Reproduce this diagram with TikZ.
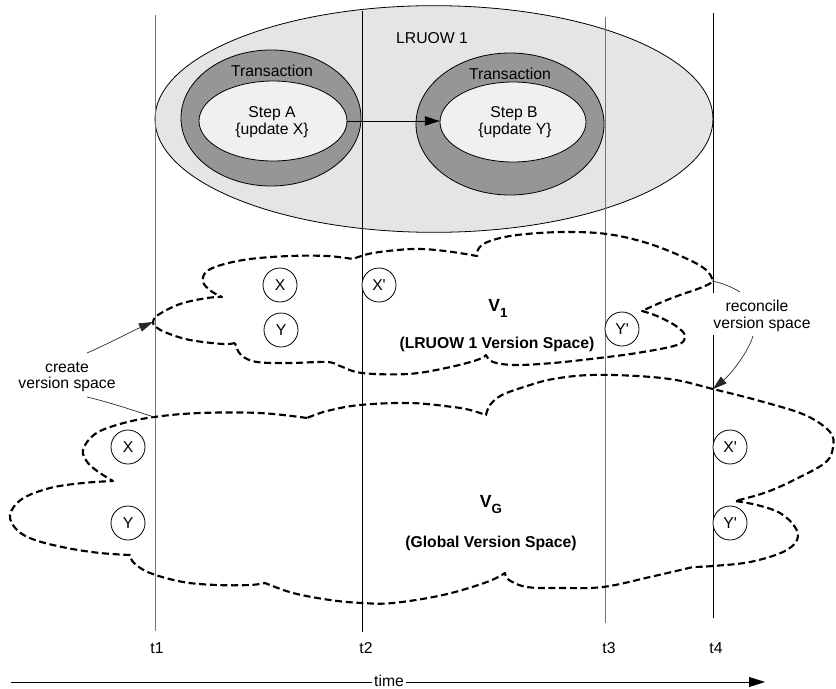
\documentclass[tikz,border=0pt]{standalone}
\usepackage{fontspec}
\setmainfont{Liberation Sans}
\newfontfamily\plainsans{Liberation Sans}
\usetikzlibrary{shapes.geometric,arrows.meta}
\definecolor{lruowfill}{gray}{0.90}
\definecolor{stepfill}{gray}{0.94}
\definecolor{ringfill}{gray}{0.59}
\definecolor{faintline}{gray}{0.45}

\begin{document}
\begin{tikzpicture}[x=0.75pt,y=-0.75pt,
  font=\fontsize{11.8}{14}\selectfont,
  lbl/.style={inner sep=0pt, anchor=base},
  boldlbl/.style={inner sep=0pt, anchor=base, font=\fontsize{11.8}{14}\selectfont\bfseries},
  txring/.style={ellipse, draw=black, line width=0.6pt, fill=ringfill, inner sep=0pt},
  stepbox/.style={ellipse, draw=black, line width=0.6pt, fill=stepfill, inner sep=0pt},
  item/.style={circle, draw=black, line width=0.6pt, fill=white, minimum size=25.5pt, inner sep=0pt, font=\fontsize{11.8}{14}\plainsans},
  vspace/.style={draw=black, line width=1.6pt, dash pattern=on 5.25pt off 2.75pt, line join=round},
  strongline/.style={line width=0.6pt, black},
  faint/.style={line width=0.5pt, faintline},
  leader/.style={line width=0.5pt, black!85},
  tip/.style={-{Triangle[length=10.5pt,width=6.5pt]}}
]
\useasboundingbox (0,0) rectangle (836,689);

% ---------- long running unit of work with its two transactions ----------
\node[ellipse, draw=black, line width=0.6pt, fill=lruowfill, inner sep=0pt,
      minimum width=418.5pt, minimum height=170pt] (lruow) at (434,119) {};
\node[lbl] (lruowlbl) at (432,43) {LRUOW 1};

\node[txring, minimum width=135pt, minimum height=102pt] (txA) at (271,118) {};
\node[txring, minimum width=141pt, minimum height=106.5pt] (txB) at (510,124) {};
\node[lbl] (txAlbl) at (272,76) {Transaction};
\node[lbl] (txBlbl) at (510,79) {Transaction};

\node[stepbox, minimum width=111pt, minimum height=60pt] (stepA) at (273,121) {};
\node[stepbox, minimum width=109.5pt, minimum height=60pt] (stepB) at (513,122) {};
\node[lbl] (stepAt) at (272,117) {Step A};
\node[lbl] (stepAu) at (272,134) {\{update X\}};
\node[lbl] (stepBt) at (514,117) {Step B};
\node[lbl] (stepBu) at (515,134) {\{update Y\}};

\draw[line width=0.6pt, -{Triangle[length=11pt,width=7pt]}]
  (stepA.east) -- (stepA.east -| stepB.west);

% ---------- time markers ----------
\coordinate (t1top) at (155,15);  \coordinate (t1bot) at (155,631);
\coordinate (t2top) at (362,11);  \coordinate (t2bot) at (362,632);
\coordinate (t3top) at (605,17);  \coordinate (t3bot) at (605,623);
\coordinate (t4top) at (713,13);  \coordinate (t4gapA) at (713,293);
\coordinate (t4gapB) at (713,335); \coordinate (t4bot) at (713,618);
\draw[faint] (t1top) -- (t1bot);
\draw[strongline] (t2top) -- (t2bot);
\draw[faint] (t3top) -- (t3bot);
\draw[strongline] (t4top) -- (t4gapA) (t4gapB) -- (t4bot);

\node[lbl] (t1lbl) at (157,653) {t1};
\node[lbl] (t2lbl) at (366,653) {t2};
\node[lbl] (t3lbl) at (609,653) {t3};
\node[lbl] (t4lbl) at (716,653) {t4};

% ---------- version spaces ----------
\coordinate (v1left)  at (153,322);
\coordinate (v1right) at (712,281);
\coordinate (vgt1)    at (154,417);
\coordinate (vgt4)    at (713,389);

% LRUOW 1 version space
\draw[vspace]
  plot[smooth,tension=.6] coordinates {(235,343) (223,344) (190,340) (167,333) (156,327) (v1left) (158,315) (180,304) (207,298) (222,297)}
  -- plot[smooth,tension=.6] coordinates {(222,297) (211,291) (203,282) (206,272) (221,265) (250,259) (290,256) (327,256) (353,259)}
  -- plot[smooth,tension=.6] coordinates {(353,259) (373,253) (413,249) (445,251) (477,256)}
  -- plot[smooth,tension=.6] coordinates {(477,256) (479,248) (490,241) (517,235) (563,232) (607,234) (647,243) (683,257) (705,269) (v1right) (700,288) (680,295) (662,302) (642,311)}
  -- plot[smooth,tension=.6] coordinates {(642,311) (657,316) (676,326) (685,336) (677,345) (637,353) (599,358) (553,363) (515,365) (493,362) (486,355)}
  -- plot[smooth,tension=.6] coordinates {(486,355) (477,360) (446,368) (408,374) (362,373) (340,366) (327,362) (290,363) (257,362) (241,355) (235,343)};

% global version space
\draw[vspace]
  plot[smooth,tension=.6] coordinates {(307,418) (260,413) (200,413) (vgt1) (120,424) (95,434) (83,450) (88,463) (100,473) (113,481)}
  -- plot[smooth,tension=.6] coordinates {(113,481) (83,483) (50,488) (22,499) (10,515) (17,530) (35,540) (67,548) (100,553) (130,555)}
  -- plot[smooth,tension=.6] coordinates {(130,555) (134,563) (150,573) (183,582) (217,585) (250,585) (265,583)}
  -- plot[smooth,tension=.6] coordinates {(265,583) (293,593) (330,600) (362,603) (393,603) (443,595) (487,582) (505,573)}
  -- plot[smooth,tension=.6] coordinates {(505,573) (509,580) (527,587) (560,588) (603,587) (650,577) (693,567)}
  -- plot[smooth,tension=.6] coordinates {(693,567) (713,566) (750,562) (783,552) (797,540) (795,527) (780,513) (757,505) (735,501)}
  -- plot[smooth,tension=.6] coordinates {(735,501) (767,492) (800,477) (826,462) (833,447) (830,432) (805,415) (760,401) (vgt4) (676,380) (637,376) (590,375) (553,379) (527,386) (502,395) (490,405) (486,415)}
  -- plot[smooth,tension=.6] coordinates {(486,415) (470,410) (453,407) (410,403) (360,405) (327,411) (307,418)};

% versions held in each space
\node[item] (x1)  at (280,285) {X};
\node[item] (y1)  at (281,330) {Y};
\node[item] (x1p) at (379,285) {X'};
\node[item] (y1p) at (622,329) {Y'};
\node[item] (xg)  at (128,447) {X};
\node[item] (yg)  at (128,523) {Y};
\node[item] (xgp) at (730,447) {X'};
\node[item] (ygp) at (730,523) {Y'};

\node[lbl] (v1lbl) at (498,311)
  {\fontsize{13.2}{14}\selectfont\bfseries V\raisebox{-5pt}{\fontsize{10}{11}\selectfont 1}};
\node[boldlbl] (v1name) at (497,348) {(LRUOW 1 Version Space)};
\node[lbl] (vglbl) at (491,507)
  {\fontsize{13.2}{14}\selectfont\bfseries V\raisebox{-4.5pt}{\fontsize{10}{11}\selectfont G}};
\node[boldlbl] (vgname) at (491,547) {(Global Version Space)};

% ---------- creation and reconciliation ----------
\node[lbl] (create1) at (67,372) {create};
\node[lbl] (create2) at (67,388) {version space};
\coordinate (cvsA) at (87,353);
\coordinate (cvsB) at (87,397);
\draw[leader, tip] (cvsA) .. controls (112,342) and (132,331) .. (v1left);
\draw[leader] (cvsB) .. controls (112,403) and (132,410) .. (vgt1);

\node[lbl] (recon1) at (757,311) {reconcile};
\node[lbl] (recon2) at (762,328) {version space};
\coordinate (rvsA) at (740,292);
\coordinate (rvsB) at (753,336);
\draw[leader] (v1right) .. controls (722,283) and (732,287) .. (rvsA);
\draw[leader, tip] (rvsB) .. controls (748,352) and (732,373) .. (vgt4);

% ---------- time axis ----------
\coordinate (timeS) at (11,682);
\coordinate (timeE) at (765,682);
\draw[line width=0.6pt, -{Triangle[length=12pt,width=7.5pt]}] (timeS) -- (timeE);
\node[fill=white, inner xsep=1.5pt, inner ysep=1pt] (timelbl) at (389,681) {time};

\end{tikzpicture}
\end{document}
